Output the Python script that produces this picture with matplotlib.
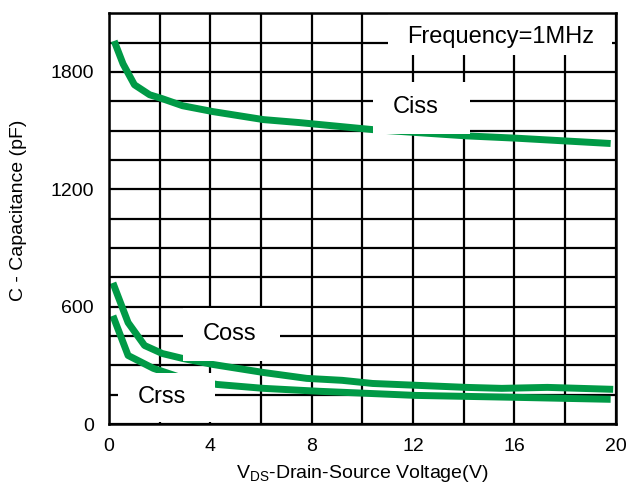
import matplotlib
matplotlib.use("Agg")
import matplotlib.pyplot as plt
from matplotlib.patches import Rectangle

plt.rcParams['font.family'] = ['Liberation Sans', 'DejaVu Sans']
plt.rcParams['mathtext.fontset'] = 'custom'
plt.rcParams['mathtext.rm'] = 'Liberation Sans'

# capacitance curves, VDS in volts, C in pF
vds_ciss = [0.2, 0.55, 1.0, 1.6, 2.1, 2.9, 4.1, 6.1, 7.5, 10.4, 14.1, 16.1, 19.8]
ciss = [1958, 1841, 1734, 1683, 1663, 1627, 1597, 1556, 1541, 1505, 1473, 1461, 1434]

vds_coss = [0.15, 0.75, 1.4, 2.1, 2.9, 4.1, 6.1, 7.8, 9.2, 10.4, 14.1, 15.5, 17.3, 19.9]
coss = [722, 519, 402, 361, 336, 305, 264, 234, 224, 208, 188, 183, 188, 178]

vds_crss = [0.15, 0.75, 1.75, 2.7, 3.6, 4.25, 6.1, 8.3, 12.1, 16.1, 19.8]
crss = [554, 351, 285, 244, 219, 203, 183, 168, 147, 137, 127]

x_ticks = [0, 4, 8, 12, 16, 20]
y_ticks = [0, 600, 1200, 1800]

green = '#009a46'

fig = plt.figure(figsize=(6.27, 4.87), dpi=100)
ax = fig.add_axes([0.174, 0.129, 0.808, 0.844])

ax.set_xlim(0, 20)
ax.set_ylim(0, 2100)
ax.set_xticks(x_ticks)
ax.set_yticks(y_ticks)
ax.set_xticks(range(0, 21, 2), minor=True)
ax.set_yticks(range(0, 2101, 150), minor=True)
ax.grid(which='both', color='black', linewidth=1.6, zorder=1)
ax.set_axisbelow(True)
ax.tick_params(which='both', length=0, labelsize=14)
ax.tick_params(axis='y', pad=11)
ax.tick_params(axis='x', pad=10)
for sp in ax.spines.values():
    sp.set_linewidth(1.8)
    sp.set_zorder(6)

ax.plot(vds_ciss, ciss, color=green, lw=5, zorder=2, solid_capstyle='butt')
ax.plot(vds_coss, coss, color=green, lw=5, zorder=2, solid_capstyle='butt')
ax.plot(vds_crss, crss, color=green, lw=5, zorder=2, solid_capstyle='butt')

# white label boxes over the grid
labels = [
    ('Frequency=1MHz', 11.0, 1887, 8.84, 213, 15.45, 1980),
    ('Ciss', 10.41, 1485, 3.83, 264, 12.1, 1620),
    ('Coss', 2.92, 325, 3.83, 270, 4.75, 462),
    ('Crss', 0.36, 10, 3.82, 254, 2.1, 137),
]
for txt, x0, y0, w, h, tx, ty in labels:
    ax.add_patch(Rectangle((x0, y0), w, h, facecolor='white', edgecolor='none', zorder=3))
    ax.text(tx, ty, txt, fontsize=17, ha='center', va='center', zorder=4)

ax.set_xlabel(r'V$_{\mathrm{DS}}$-Drain-Source Voltage(V)', fontsize=14, labelpad=6)
ax.set_ylabel('C - Capacitance (pF)', fontsize=14)
ax.yaxis.set_label_coords(-0.162, 0.52)

fig.savefig('out.png', dpi=100)
